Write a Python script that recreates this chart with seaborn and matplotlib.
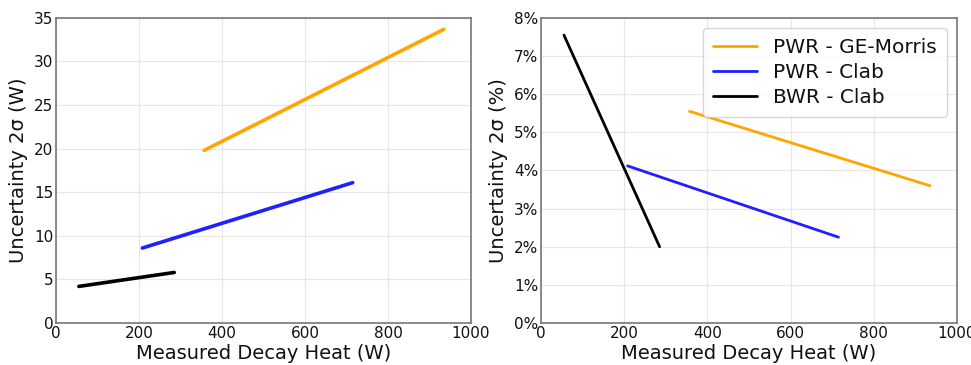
import matplotlib
matplotlib.use("Agg")
import matplotlib.pyplot as plt
import seaborn as sns
import pandas as pd
from matplotlib.ticker import PercentFormatter

# Fitted uncertainty trends (end points of each fit line)
series = ["PWR - GE-Morris", "PWR - Clab", "BWR - Clab"]
colors = ["#FFA500", "#1F1FFF", "#000000"]

heat_ge = [357, 935]
heat_pwr_clab = [208, 715]
heat_bwr_clab = [55, 285]

abs_ge = [19.8, 33.7]
abs_pwr_clab = [8.6, 16.1]
abs_bwr_clab = [4.2, 5.8]

rel_ge = [5.55, 3.6]
rel_pwr_clab = [4.12, 2.25]
rel_bwr_clab = [7.55, 2.0]

xticks = [0, 200, 400, 600, 800, 1000]

frames = []
for name, h, a, r in zip(series,
                         [heat_ge, heat_pwr_clab, heat_bwr_clab],
                         [abs_ge, abs_pwr_clab, abs_bwr_clab],
                         [rel_ge, rel_pwr_clab, rel_bwr_clab]):
    frames.append(pd.DataFrame({"heat": h, "abs": a, "rel": r, "series": name}))
df = pd.concat(frames, ignore_index=True)

sns.set_theme(style="whitegrid")
plt.rcParams["font.family"] = ["DejaVu Sans"]
plt.rcParams["text.color"] = "#111111"
plt.rcParams["axes.labelcolor"] = "#111111"
plt.rcParams["xtick.color"] = "#111111"
plt.rcParams["ytick.color"] = "#111111"

fig = plt.figure(figsize=(9.71, 3.65), dpi=100)
ax1 = fig.add_axes([0.0577, 0.115, 0.4273, 0.836])
ax2 = fig.add_axes([0.5572, 0.115, 0.4284, 0.836])

palette = dict(zip(series, colors))
sns.lineplot(data=df, x="heat", y="abs", hue="series", palette=palette,
             hue_order=series, linewidth=2.6, ax=ax1, legend=False)
sns.lineplot(data=df, x="heat", y="rel", hue="series", palette=palette,
             hue_order=series, linewidth=2.0, ax=ax2)

ax1.set_xlim(0, 1000)
ax1.set_ylim(0, 35)
ax1.set_yticks(range(0, 36, 5))
ax1.set_ylabel("Uncertainty 2σ (W)", fontsize=14)

ax2.set_xlim(0, 1000)
ax2.set_ylim(0, 8)
ax2.set_yticks(range(0, 9))
ax2.yaxis.set_major_formatter(PercentFormatter(decimals=0))
ax2.set_ylabel("Uncertainty 2σ (%)", fontsize=14)

for ax in (ax1, ax2):
    ax.set_xticks(xticks)
    ax.set_xlabel("Measured Decay Heat (W)", fontsize=14, labelpad=2)
    ax.tick_params(axis="both", labelsize=11, pad=2, length=0)
    ax.grid(True, color="#e6e6e6", linewidth=0.8)
    for sp in ax.spines.values():
        sp.set_color("#777777")
        sp.set_linewidth(1.2)

leg = ax2.legend(title=None, fontsize=14.5, loc="upper right",
                 handlelength=2.2, borderpad=0.5, labelspacing=0.3,
                 frameon=True)
for line in leg.get_lines():
    line.set_linewidth(2.0)

fig.savefig("out.png", dpi=100)
